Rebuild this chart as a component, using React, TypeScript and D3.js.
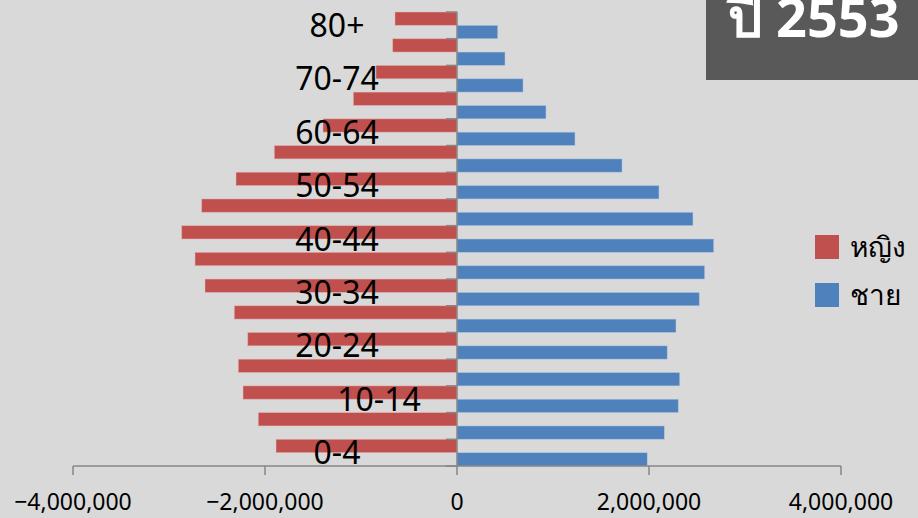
import React from "react";
import * as d3 from "d3";

const ageGroups = ["0-4","5-9","10-14","15-19","20-24","25-29","30-34","35-39","40-44","45-49","50-54","55-59","60-64","65-69","70-74","75-79","80+"];
const female = [1885000,2070000,2229000,2278000,2180000,2320000,2625000,2729000,2868000,2660000,2302000,1903000,1396000,1080000,844000,670000,646000];
const male = [1982000,2160000,2305000,2320000,2190000,2281000,2524000,2580000,2674000,2458000,2104000,1719000,1229000,927000,688000,500000,424000];
const shownLabels = ["0-4","10-14","20-24","30-34","40-44","50-54","60-64","70-74","80+"];
const xTicks = [-4000000,-2000000,0,2000000,4000000];
const legendItems = [{ name: "หญิง", color: "#c0504d" }, { name: "ชาย", color: "#4f81bd" }];
const titleText = "ปี 2553";

const W = 918, H = 518;

export default function App() {
  const x = d3.scaleLinear().domain([-4000000, 4000000]).range([73, 841]);
  const y = d3.scaleBand<string>().domain([...ageGroups].reverse()).range([12, 466]).paddingInner(0).paddingOuter(0);
  const bw = y.bandwidth();
  const fmt = d3.format(",");
  const axisColor = "#868686";
  const labelShift: Record<string, number> = { "10-14": 42 };

  return (
    <svg width={W} height={H} style={{ position: "absolute", left: 0, top: 0, display: "block" }}
      fontFamily="'Noto Sans', 'Open Sans', sans-serif">
      <rect x={0} y={0} width={W} height={H} fill="#d9d9d9" />
      {/* bars */}
      {ageGroups.map((g, i) => (
        <g key={g}>
          <rect x={x(-female[i])} y={y(g)!} width={x(0) - x(-female[i])} height={bw / 2}
            fill="#c0504d" stroke="#e6b9b8" strokeWidth={0.8} strokeOpacity={0.6} />
          <rect x={x(0)} y={y(g)! + bw / 2} width={x(male[i]) - x(0)} height={bw / 2}
            fill="#4f81bd" stroke="#b9cde5" strokeWidth={0.8} strokeOpacity={0.6} />
        </g>
      ))}
      {/* vertical axis */}
      <line x1={x(0)} x2={x(0)} y1={12} y2={466} stroke={axisColor} strokeWidth={1.5} />
      {d3.range(ageGroups.length + 1).map((k) => {
        const yy = 12 + k * bw;
        return <line key={k} x1={x(0) - 11} x2={x(0)} y1={yy} y2={yy} stroke={axisColor} strokeWidth={1.5} />;
      })}
      {/* horizontal axis */}
      <line x1={x(-4000000)} x2={x(4000000)} y1={466} y2={466} stroke={axisColor} strokeWidth={1.5} />
      {xTicks.map((t) => (
        <g key={t}>
          <line x1={x(t)} x2={x(t)} y1={466} y2={475} stroke={axisColor} strokeWidth={1.5} />
          <text x={x(t)} y={510} textAnchor="middle" fontSize={23} fill="#000">{fmt(t)}</text>
        </g>
      ))}
      {/* category labels */}
      {shownLabels.map((g) => (
        <text key={g} x={337 + (labelShift[g] || 0)} y={y(g)! + bw / 2} dy="0.36em" textAnchor="middle"
          fontSize={32} fill="#000">{g}</text>
      ))}
      {/* legend */}
      {legendItems.map((it, i) => (
        <g key={it.name} transform={`translate(815, ${235 + i * 48})`}>
          <rect x={0} y={0} width={24} height={24} fill={it.color} />
          <text x={35} y={12} dy="0.36em" fontSize={28} fill="#000">{it.name}</text>
        </g>
      ))}
      {/* title box */}
      <rect x={706} y={0} width={212} height={80} fill="#595959" />
      <text x={728} y={37} fontSize={54} fontWeight="bold" fill="#fff">{titleText}</text>
    </svg>
  );
}
